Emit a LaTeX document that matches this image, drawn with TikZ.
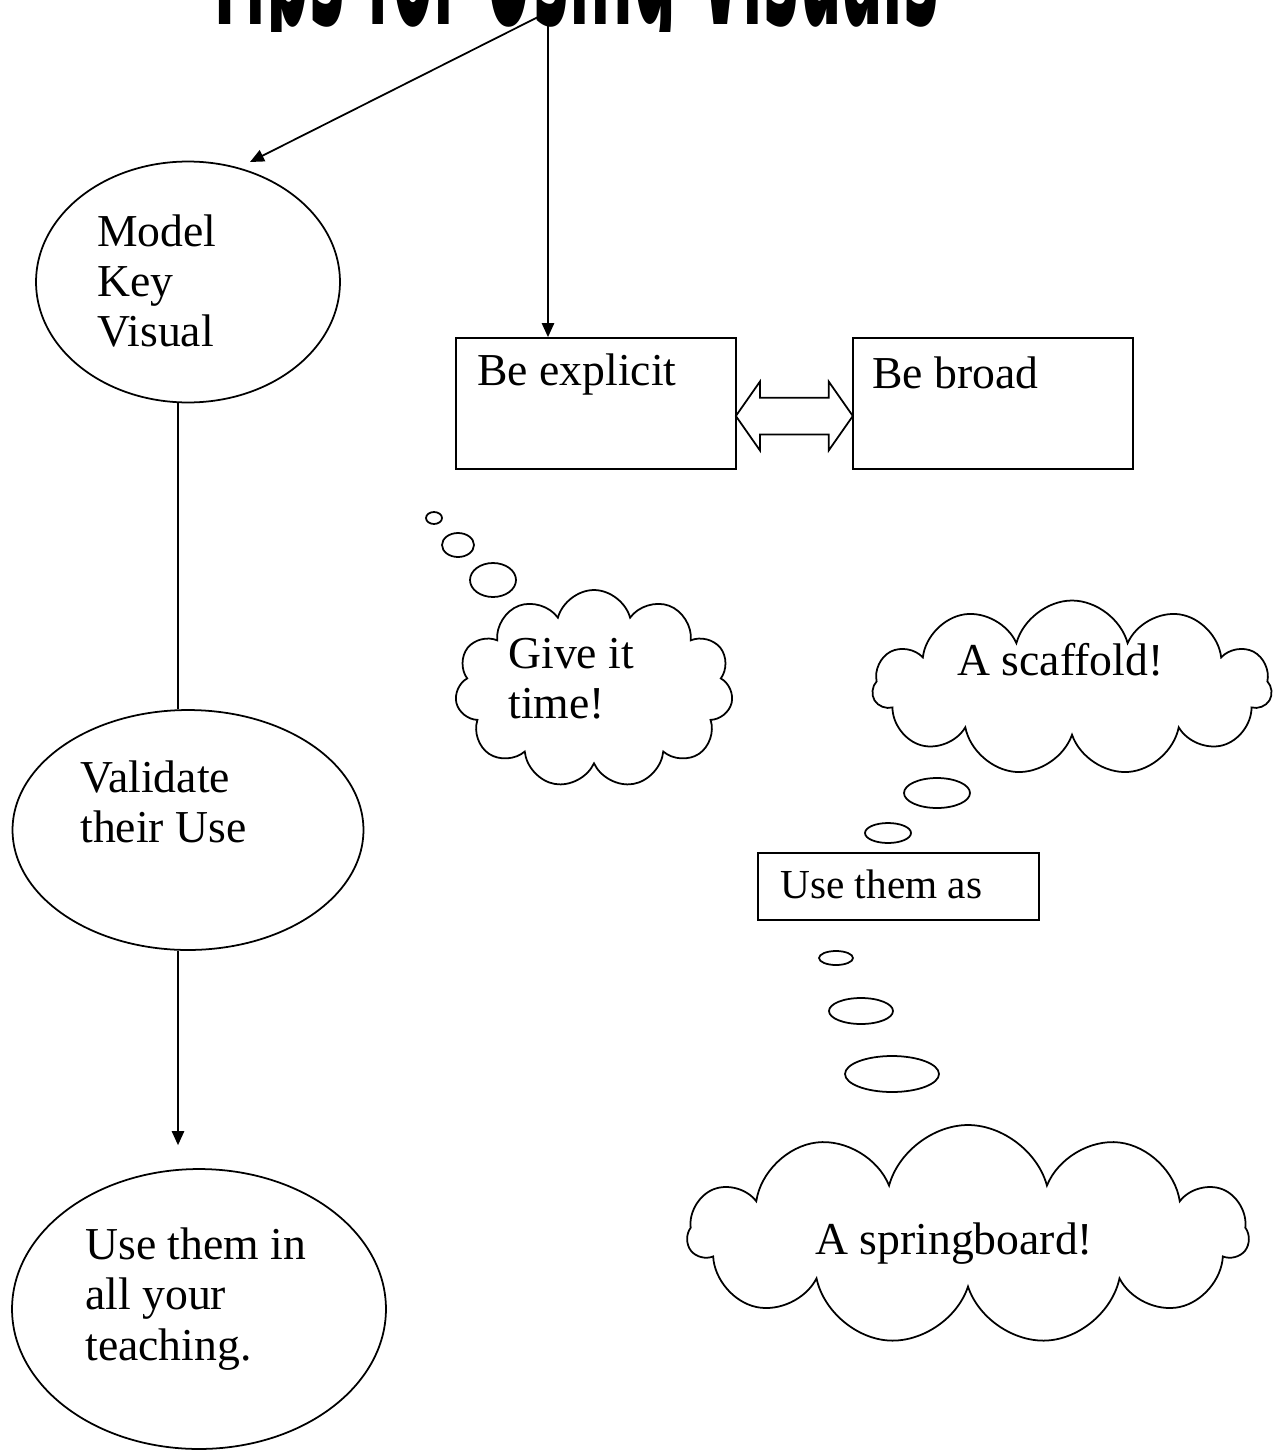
\documentclass[tikz,border=0pt]{standalone}
\usepackage{fontspec}
\setmainfont{Liberation Serif}
\newfontfamily\titlefont{DejaVu Sans}
\usetikzlibrary{positioning, arrows.meta, calc, shapes.geometric, shapes.symbols, shapes.arrows}

\begin{document}
\begin{tikzpicture}[
    x=0.02cm, y=-0.02cm,
    % Shapes
    bigoval/.style={
        ellipse,
        draw=black,
        line width=1pt,
        inner sep=0pt
    },
    tipbox/.style={
        rectangle,
        draw=black,
        line width=1pt,
        minimum width=5.6cm,
        minimum height=2.62cm
    },
    thought/.style={
        cloud,
        draw=black,
        line width=1pt,
        cloud puffs=11,
        cloud ignores aspect
    },
    bubble/.style={
        ellipse,
        draw=black,
        line width=1pt,
        inner sep=0pt
    },
    % Text and lines
    textblock/.style={
        anchor=west,
        align=left,
        inner sep=0pt,
        font=\fontsize{26}{28.5}\selectfont
    },
    arrow/.style={
        -{Triangle[length=8pt, width=7pt]},
        line width=1pt
    }
]

\useasboundingbox (0,0) rectangle (1277,1450);

% === Title (cut off at the top) ===
\begin{scope}
    \clip (0,0) rectangle (1277,31);
    \node[anchor=base, inner sep=0pt] (title) at (572,24)
        {\resizebox{14.7cm}{3cm}{\titlefont\bfseries Tips for Using Visuals}};
\end{scope}
\coordinate (top) at (548,12);
\coordinate (modeltip) at (250,162);

% === Left column ===
\node[bigoval, minimum width=6.08cm, minimum height=4.82cm] (model) at (188,282) {};
\node[textblock] (modeltext) at (97,281) {Model\\Key\\Visual};

\node[bigoval, minimum width=7.02cm, minimum height=4.8cm] (validate) at (188,830) {};
\node[textblock] (validatetext) at (80,802) {Validate\\their Use};

\node[bigoval, minimum width=7.48cm, minimum height=5.6cm] (teach) at (199,1309) {};
\node[textblock] (teachtext) at (85,1299) {Use them in\\all your\\teaching.};

% === Boxes ===
\node[tipbox] (explicit) at (596,403.5) {};
\node[tipbox, right=2.3cm of explicit] (broad) {};
\node[textblock] (explicittext) at (477,375) {Be explicit};
\node[textblock] (broadtext) at (872,373) {Be broad};
\node[double arrow, draw=black, line width=1pt, fill=white, inner xsep=0pt, inner ysep=0.35cm,
      minimum height=2.34cm, minimum width=1.34cm, double arrow head extend=0.32cm,
      double arrow tip angle=110]
      (link) at ($(explicit.east)!0.5!(broad.west)+(0,12.5)$) {};

% === Thought clouds ===
\node[bubble, minimum width=0.32cm, minimum height=0.24cm] (tb1) at (434,518) {};
\node[bubble, minimum width=0.64cm, minimum height=0.48cm] (tb2) at (458,545) {};
\node[bubble, minimum width=0.92cm, minimum height=0.68cm] (tb3) at (493,580) {};
\node[thought, minimum width=5.56cm, minimum height=3.96cm] (timecloud) at (594,689) {};
\node[textblock] (timetext) at (508,679) {Give it\\time!};

\node[thought, minimum width=7.98cm, minimum height=3.5cm] (scaffold) at (1072,688) {};
\node[textblock] (scaffoldtext) at (957,660) {A scaffold!};
\node[bubble, minimum width=1.32cm, minimum height=0.6cm] (sb1) at (937,793) {};
\node[bubble, minimum width=0.92cm, minimum height=0.4cm] (sb2) at (888,833) {};

\node[rectangle, draw=black, line width=1pt, minimum width=5.62cm, minimum height=1.34cm] (useas) at (898.5,886.5) {};
\node[textblock, font=\fontsize{23.5}{26}\selectfont] (useastext) at (780,884) {Use them as};

\node[bubble, minimum width=0.68cm, minimum height=0.28cm] (pb1) at (836,958) {};
\node[bubble, minimum width=1.28cm, minimum height=0.52cm] (pb2) at (861,1011) {};
\node[bubble, minimum width=1.88cm, minimum height=0.72cm] (pb3) at (892,1074) {};
\node[thought, minimum width=11.2cm, minimum height=4.4cm] (spring) at (968,1235) {};
\node[textblock] (springtext) at (815,1244) {A springboard!};

% === Connectors ===
\draw[arrow] (top) -- (modeltip);
\draw[arrow] (top) -- (top |- explicit.north);
\draw[line width=1pt] ([xshift=-0.2cm]model.south) -- ([xshift=-0.2cm]validate.north);
\draw[arrow, shorten >=0.46cm] ([xshift=-0.2cm]validate.south) -- ([xshift=-0.2cm]validate.south |- teach.north);

\end{tikzpicture}
\end{document}
